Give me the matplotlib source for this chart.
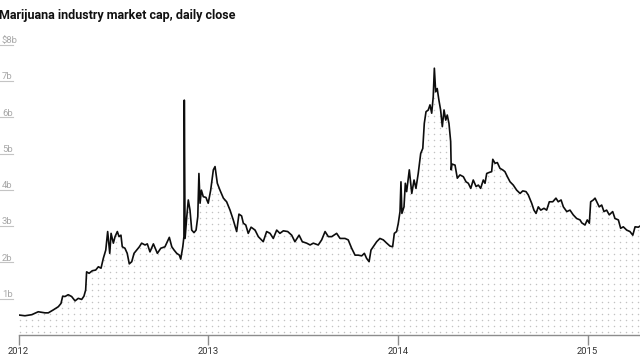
import numpy as np
import matplotlib.pyplot as plt

# market cap in billions of dollars, x as decimal year
years = [
    2012.003, 2012.034, 2012.070, 2012.104, 2012.140, 2012.157, 2012.183, 2012.210,
    2012.224, 2012.233, 2012.245, 2012.262, 2012.280, 2012.298, 2012.315, 2012.333,
    2012.345, 2012.354, 2012.359, 2012.372, 2012.389, 2012.407, 2012.421, 2012.435,
    2012.447, 2012.460, 2012.470, 2012.481, 2012.488, 2012.500, 2012.509, 2012.521,
    2012.530, 2012.540, 2012.547, 2012.561, 2012.573, 2012.584, 2012.597, 2012.609,
    2012.623, 2012.637, 2012.649, 2012.667, 2012.679, 2012.693, 2012.711, 2012.732,
    2012.750, 2012.772, 2012.781, 2012.795, 2012.808, 2012.820, 2012.834, 2012.848,
    2012.855, 2012.866, 2012.872, 2012.874, 2012.878, 2012.887, 2012.895, 2012.904,
    2012.913, 2012.925, 2012.936, 2012.945, 2012.951, 2012.957, 2012.964, 2012.974,
    2012.988, 2013.000, 2013.013, 2013.027, 2013.036, 2013.048, 2013.062, 2013.080,
    2013.097, 2013.115, 2013.132, 2013.150, 2013.162, 2013.176, 2013.185, 2013.198,
    2013.211, 2013.226, 2013.247, 2013.264, 2013.290, 2013.308, 2013.326, 2013.343,
    2013.361, 2013.378, 2013.396, 2013.419, 2013.440, 2013.457, 2013.479, 2013.496,
    2013.519, 2013.537, 2013.554, 2013.580, 2013.598, 2013.616, 2013.633, 2013.651,
    2013.677, 2013.695, 2013.721, 2013.738, 2013.756, 2013.774, 2013.791, 2013.809,
    2013.823, 2013.835, 2013.848, 2013.858, 2013.870, 2013.888, 2013.905, 2013.923,
    2013.941, 2013.958, 2013.972, 2013.981, 2013.993, 2014.002, 2014.011, 2014.016,
    2014.021, 2014.032, 2014.039, 2014.046, 2014.060, 2014.073, 2014.085, 2014.095,
    2014.107, 2014.120, 2014.131, 2014.139, 2014.148, 2014.160, 2014.169, 2014.178,
    2014.186, 2014.192, 2014.199, 2014.207, 2014.216, 2014.225, 2014.234, 2014.243,
    2014.252, 2014.260, 2014.269, 2014.278, 2014.281, 2014.285, 2014.301, 2014.313,
    2014.327, 2014.345, 2014.359, 2014.371, 2014.384, 2014.397, 2014.412, 2014.424,
    2014.436, 2014.450, 2014.459, 2014.468, 2014.482, 2014.494, 2014.500, 2014.512,
    2014.524, 2014.538, 2014.552, 2014.564, 2014.577, 2014.591, 2014.608, 2014.626,
    2014.644, 2014.658, 2014.675, 2014.687, 2014.705, 2014.717, 2014.728, 2014.740,
    2014.753, 2014.770, 2014.784, 2014.798, 2014.816, 2014.833, 2014.845, 2014.860,
    2014.872, 2014.890, 2014.907, 2014.924, 2014.942, 2014.960, 2014.969, 2014.986,
    2014.998, 2015.009, 2015.016, 2015.030, 2015.039, 2015.048, 2015.061, 2015.074,
    2015.086, 2015.100, 2015.114, 2015.132, 2015.144, 2015.162, 2015.174, 2015.188,
    2015.206, 2015.223, 2015.238, 2015.250, 2015.267, 2015.276,
]
cap_b = [
    0.55, 0.53, 0.56, 0.64, 0.61, 0.61, 0.69, 0.78,
    0.87, 1.07, 1.06, 1.11, 1.06, 0.94, 1.01, 0.98,
    1.07, 1.24, 1.74, 1.70, 1.77, 1.79, 1.88, 1.84,
    2.11, 2.34, 2.85, 2.25, 2.80, 2.53, 2.71, 2.85,
    2.71, 2.75, 2.43, 2.39, 2.25, 1.96, 2.02, 2.25,
    2.34, 2.43, 2.53, 2.48, 2.51, 2.29, 2.51, 2.25,
    2.39, 2.43, 2.53, 2.69, 2.43, 2.34, 2.25, 2.20,
    2.09, 2.43, 2.71, 6.47, 2.66, 3.26, 3.72, 3.44,
    2.89, 2.82, 2.89, 3.26, 4.45, 3.63, 3.99, 3.81,
    3.79, 3.63, 3.99, 4.55, 4.64, 4.18, 3.99, 3.77,
    3.67, 3.44, 3.17, 2.85, 3.33, 3.28, 3.08, 3.03,
    2.80, 2.97, 2.89, 2.71, 2.57, 2.85, 2.80, 2.66,
    2.89, 2.80, 2.87, 2.85, 2.75, 2.57, 2.75, 2.57,
    2.53, 2.48, 2.53, 2.48, 2.62, 2.85, 2.71, 2.71,
    2.80, 2.66, 2.66, 2.62, 2.39, 2.20, 2.20, 2.18,
    2.25, 2.11, 2.02, 2.34, 2.43, 2.57, 2.66, 2.62,
    2.53, 2.45, 2.43, 2.80, 2.85, 3.08, 3.40, 4.22,
    3.35, 3.53, 4.18, 3.95, 4.55, 3.90, 4.27, 4.04,
    4.45, 5.00, 5.14, 5.83, 6.15, 6.20, 6.34, 6.11,
    6.56, 7.35, 6.70, 6.79, 6.47, 6.20, 5.74, 6.20,
    5.92, 6.06, 5.83, 5.33, 4.55, 4.71, 4.68, 4.32,
    4.41, 4.36, 4.22, 4.18, 4.04, 4.27, 4.09, 4.13,
    4.04, 4.27, 4.18, 4.45, 4.48, 4.50, 4.84, 4.73,
    4.75, 4.59, 4.55, 4.50, 4.36, 4.22, 4.13, 3.99,
    3.90, 3.97, 3.95, 3.86, 3.63, 3.44, 3.35, 3.53,
    3.44, 3.49, 3.44, 3.67, 3.67, 3.77, 3.67, 3.72,
    3.53, 3.40, 3.44, 3.31, 3.21, 3.17, 3.09, 3.03,
    3.17, 3.08, 3.67, 3.72, 3.77, 3.67, 3.53, 3.58,
    3.40, 3.44, 3.31, 3.40, 3.21, 3.17, 2.94, 2.98,
    2.89, 2.85, 2.75, 2.98, 2.97, 3.00,
]

tick_years = [2012, 2013, 2014, 2015]
tick_year_labels = ['2012', '2013', '2014', '2015']
y_ticks = [1, 2, 3, 4, 5, 6, 7, 8]
y_tick_labels = ['1b', '2b', '3b', '4b', '5b', '6b', '7b', '$8b']
title = 'Marijuana industry market cap, daily close'

plt.rcParams['font.family'] = ['Roboto', 'DejaVu Sans']

W, H = 640, 360
fig = plt.figure(figsize=(6.4, 3.6), dpi=100)
ax_left, ax_bottom = 18.5 / W, 25 / H
ax_w, ax_h = 1 - ax_left, 290.4 / H
ax = fig.add_axes([ax_left, ax_bottom, ax_w, ax_h])
ax.set_xlim(2012, 2015.276)
ax.set_ylim(0, 8)

# dotted texture under the curve, clipped to the area polygon
area = ax.fill_between(years, cap_b, 0, facecolor='none', edgecolor='none')
step_x = 6 / (ax_w * W) * (2015.276 - 2012)
step_y = 6 / (ax_h * H) * 8
gx, gy = np.meshgrid(np.arange(2012.008, 2015.3, step_x), np.arange(0.09, 8, step_y))
dots = ax.scatter(gx.ravel(), gy.ravel(), s=1.1, c='#c2c2c2', linewidths=0)
dots.set_clip_path(area.get_paths()[0], ax.transData)

ax.plot(years, cap_b, color='#0d0d0d', lw=1.2)

for side in ['top', 'right', 'left']:
    ax.spines[side].set_visible(False)
ax.spines['bottom'].set_color('#8c8c8c')
ax.spines['bottom'].set_linewidth(1)
ax.set_xticks(tick_years, tick_year_labels)
ax.tick_params(axis='x', length=7, width=1, color='#8c8c8c', labelsize=6.8,
               labelcolor='#333333', pad=2)
ax.set_yticks([])

# value labels with short underline at the left edge
trans = ax.get_yaxis_transform()
px = 1 / (ax_w * W)
for v, lab in zip(y_ticks, y_tick_labels):
    ax.plot([-18.5 * px, -5.5 * px], [v, v], transform=trans, color='#c4c4c4',
            lw=0.8, clip_on=False)
    ax.text(-16.5 * px, v + 1.6 / 36.3, lab, transform=trans, fontsize=6.8,
            color='#a8a8a8', ha='left', va='baseline')

fig.text(-1 / W, 1 - 19 / H, title, fontsize=9, fontweight='bold',
         color='#111111', ha='left', va='baseline')

fig.savefig('out.png', dpi=100)
